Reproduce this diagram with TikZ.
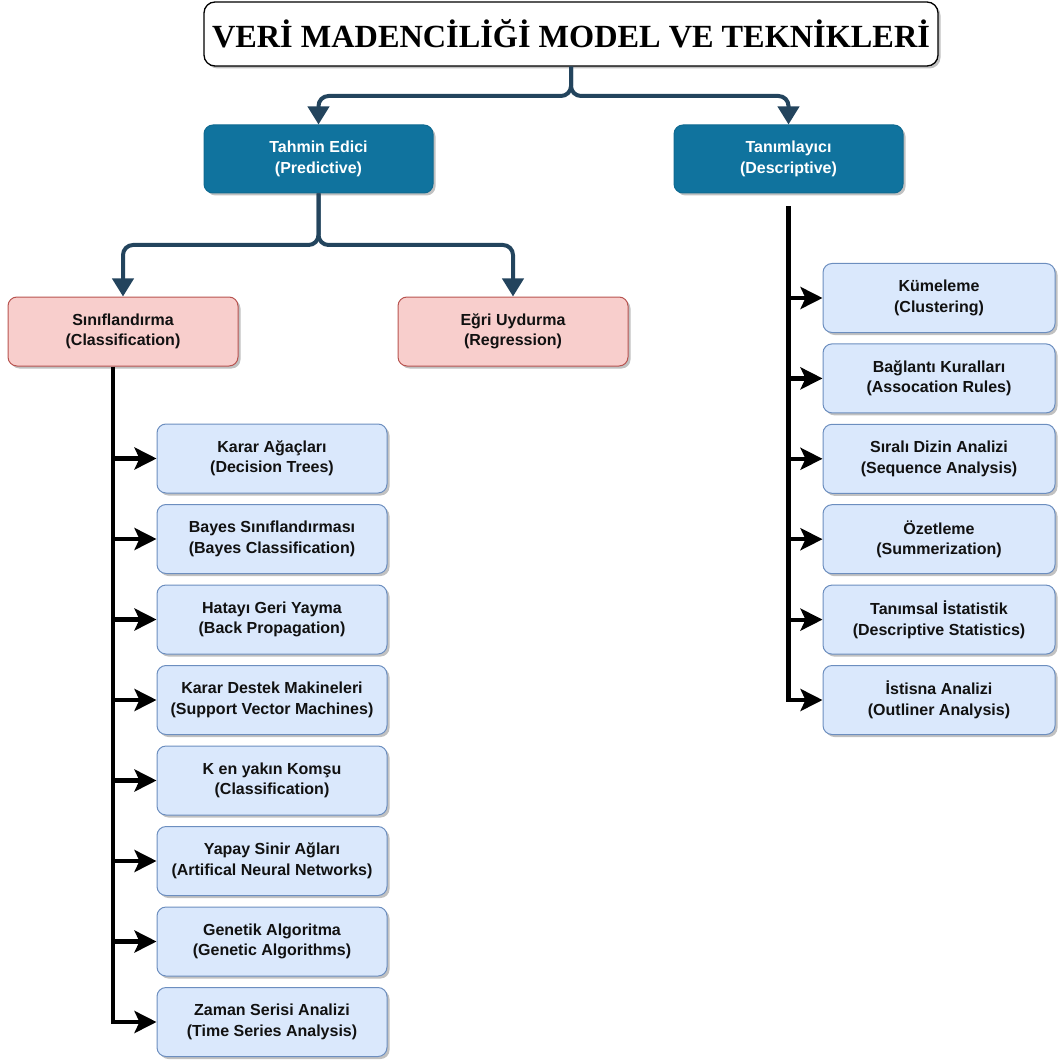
\documentclass[tikz,border=0pt]{standalone}
\usepackage{fontspec}
\setmainfont{Liberation Sans}
\newfontfamily\titlefont{Liberation Serif}
\usetikzlibrary{arrows.meta,shadows}
\definecolor{tealbox}{HTML}{10739E}
\definecolor{tealline}{HTML}{0F6A91}
\definecolor{pinkfill}{HTML}{F8CECC}
\definecolor{pinkline}{HTML}{B85450}
\definecolor{bluefill}{HTML}{DAE8FC}
\definecolor{blueline}{HTML}{6C8EBF}
\definecolor{navyline}{HTML}{23445D}
\definecolor{txt}{HTML}{111111}
\begin{document}
\begin{tikzpicture}[x=1pt,y=-1pt,
  shad/.style={drop shadow={shadow xshift=2.5pt,shadow yshift=-2.5pt,opacity=0.35,fill=black!70}},
  boxbase/.style={shad,rounded corners=9pt,inner sep=0pt,align=center,line width=1pt,
    font=\bfseries\fontsize{16}{20.5}\selectfont},
  titlebox/.style={shad,rounded corners=11pt,inner sep=0pt,align=center,draw=black,fill=white,line width=1.3pt,
    minimum width=734pt,minimum height=64pt,font=\titlefont\bfseries\fontsize{32.3}{36}\selectfont},
  mainbox/.style={boxbase,draw=tealline,fill=tealbox,text=white,minimum width=229pt,minimum height=68pt},
  redbox/.style={boxbase,draw=pinkline,fill=pinkfill,text=txt,minimum width=230pt,minimum height=69pt},
  leafbox/.style={boxbase,draw=blueline,fill=bluefill,text=txt,minimum width=230pt,minimum height=69pt},
  rleafbox/.style={leafbox,minimum width=232pt},
  navyconn/.style={draw=navyline,line width=4pt,rounded corners=10pt,
    -{Triangle[length=18pt,width=21pt]},color=navyline},
  blackline/.style={draw=black,line width=4.2pt},
  blackarr/.style={blackline,-{Stealth[length=22pt,width=22pt,inset=5pt]}}
]
\useasboundingbox (0,0) rectangle (1058,1064);

% title and main branches
\node[titlebox] (title) at (571,34) {VERİ MADENCİLİĞİ MODEL VE TEKNİKLERİ};
\node[mainbox] (tahmin) at (318.5,159) {Tahmin Edici\\(Predictive)};
\node[mainbox] (tanim) at (788.5,159) {Tanımlayıcı\\(Descriptive)};

\coordinate (tj) at (571,96);
\draw[navyconn] (title.south) -- (tj) -| (tahmin.north);
\draw[navyconn] (title.south) -- (tj) -| (tanim.north);

% predictive children
\node[redbox] (sinif) at (123,331.5) {Sınıflandırma\\(Classification)};
\node[redbox] (egri) at (513,331.5) {Eğri Uydurma\\(Regression)};

\coordinate (pj) at (318.5,245);
\draw[navyconn] (tahmin.south) -- (pj) -| (sinif.north);
\draw[navyconn] (tahmin.south) -- (pj) -| (egri.north);

% classification leaves
\node[leafbox] (l1) at (272,458.5) {Karar Ağaçları\\(Decision Trees)};
\node[leafbox] (l2) at (272,539) {Bayes Sınıflandırması\\(Bayes Classification)};
\node[leafbox] (l3) at (272,619.5) {Hatayı Geri Yayma\\(Back Propagation)};
\node[leafbox] (l4) at (272,700) {Karar Destek Makineleri\\(Support Vector Machines)};
\node[leafbox] (l5) at (272,780.5) {K en yakın Komşu\\(Classification)};
\node[leafbox] (l6) at (272,861) {Yapay Sinir Ağları\\(Artifical Neural Networks)};
\node[leafbox] (l7) at (272,941.5) {Genetik Algoritma\\(Genetic Algorithms)};
\node[leafbox] (l8) at (272,1022) {Zaman Serisi Analizi\\(Time Series Analysis)};

\coordinate (ltop) at ([xshift=-10pt]sinif.south);
\draw[blackarr] (ltop) |- (l8.west);
\foreach \n in {l1,l2,l3,l4,l5,l6,l7}{
  \draw[blackarr] (ltop |- \n.west) -- (\n.west);
}

% descriptive leaves
\node[rleafbox] (r1) at (939,298) {Kümeleme\\(Clustering)};
\node[rleafbox] (r2) at (939,378.4) {Bağlantı Kuralları\\(Assocation Rules)};
\node[rleafbox] (r3) at (939,458.8) {Sıralı Dizin Analizi\\(Sequence Analysis)};
\node[rleafbox] (r4) at (939,539.2) {Özetleme\\(Summerization)};
\node[rleafbox] (r5) at (939,619.6) {Tanımsal İstatistik\\(Descriptive Statistics)};
\node[rleafbox] (r6) at (939,700) {İstisna Analizi\\(Outliner Analysis)};

\coordinate (rtop) at ([yshift=-13pt]tanim.south);
\draw[blackarr] (rtop) |- (r6.west);
\foreach \n in {r1,r2,r3,r4,r5}{
  \draw[blackarr] (rtop |- \n.west) -- (\n.west);
}
\end{tikzpicture}
\end{document}
